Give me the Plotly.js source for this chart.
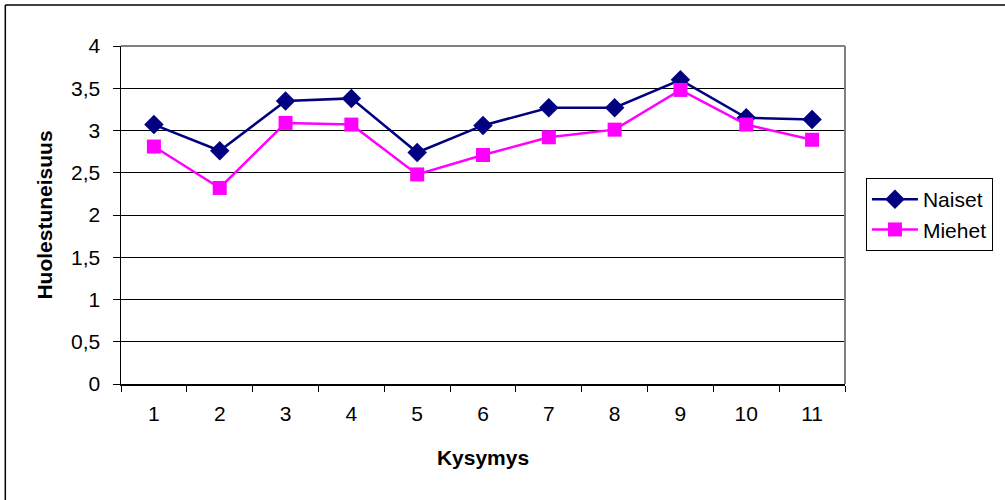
<!DOCTYPE html>
<html><head><meta charset="utf-8">
<script src="https://cdn.plot.ly/plotly-3.0.1.min.js"></script>
<style>html,body{margin:0;padding:0;background:#fff}#chart{width:1005px;height:500px}</style>
</head><body><div id="chart"></div>
<script>
const categories = ["1","2","3","4","5","6","7","8","9","10","11"];
const naiset = [3.07, 2.76, 3.35, 3.38, 2.74, 3.06, 3.27, 3.27, 3.60, 3.15, 3.13];
const miehet = [2.81, 2.32, 3.09, 3.07, 2.48, 2.71, 2.92, 3.01, 3.48, 3.07, 2.89];
const yTicks = [0, 0.5, 1, 1.5, 2, 2.5, 3, 3.5, 4];
const yTickText = ["0", "0,5", "1", "1,5", "2", "2,5", "3", "3,5", "4"];

const font = {family: "Liberation Sans, Arial, sans-serif", color: "#000"};
const f = s => Object.assign({size: s}, font);
const traces = [
  {x: categories, y: naiset, name: "Naiset", type: "scatter", mode: "lines+markers",
   line: {color: "#000080", width: 2.5}, marker: {symbol: "diamond", size: 15, color: "#000080"}},
  {x: categories, y: miehet, name: "Miehet", type: "scatter", mode: "lines+markers",
   line: {color: "#FF00FF", width: 2.5}, marker: {symbol: "square", size: 14, color: "#FF00FF"}}
];
const L = 121, R = 847, T = 46, B = 384, W = 1005, H = 500;
const px = v => (v - L) / (R - L);
const py = v => (B - v) / (B - T);
const layout = {
  width: W, height: H,
  margin: {l: L, r: W - R, t: T, b: H - B, pad: 0},
  paper_bgcolor: "#fff", plot_bgcolor: "#fff",
  font: f(21),
  showlegend: true,
  legend: {x: px(868), y: py(178), xanchor: "left", yanchor: "top",
    bordercolor: "#000", borderwidth: 1, bgcolor: "#fff",
    font: f(21), tracegroupgap: 0, itemwidth: 46},
  xaxis: {type: "category", range: [-0.5, 10.5], tickson: "boundaries", ticks: "outside", ticklen: 6,
    tickcolor: "#000", showline: true, linecolor: "#000", linewidth: 1.5,
    showgrid: false, zeroline: false, tickfont: f(21), ticklabelstandoff: 10,
    title: {text: "<b>Kysymys</b>", font: f(21), standoff: 26}},
  yaxis: {range: [0, 4], tickvals: yTicks, ticktext: yTickText, ticks: "outside", ticklen: 7,
    tickcolor: "#000", showline: true, linecolor: "#000", linewidth: 1.5,
    showgrid: true, gridcolor: "#000", gridwidth: 1, zeroline: false,
    tickfont: f(21), ticklabelstandoff: 8,
    title: {text: "<b>Huolestuneisuus</b>", font: f(21), standoff: 12}},
  shapes: [
    {type: "line", xref: "paper", yref: "paper", x0: 0, x1: 1, y0: 1, y1: 1, line: {color: "#808080", width: 2}},
    {type: "line", xref: "paper", yref: "paper", x0: 1, x1: 1, y0: 0, y1: 1, line: {color: "#808080", width: 2}},
    {type: "line", xref: "paper", yref: "paper", x0: px(5), x1: px(1010), y0: py(5), y1: py(5), line: {color: "#000", width: 1.5}},
    {type: "line", xref: "paper", yref: "paper", x0: px(5), x1: px(5), y0: py(5), y1: py(510), line: {color: "#000", width: 1.5}}
  ]
};
Plotly.newPlot("chart", traces, layout, {displayModeBar: false, staticPlot: true});
</script></body></html>
